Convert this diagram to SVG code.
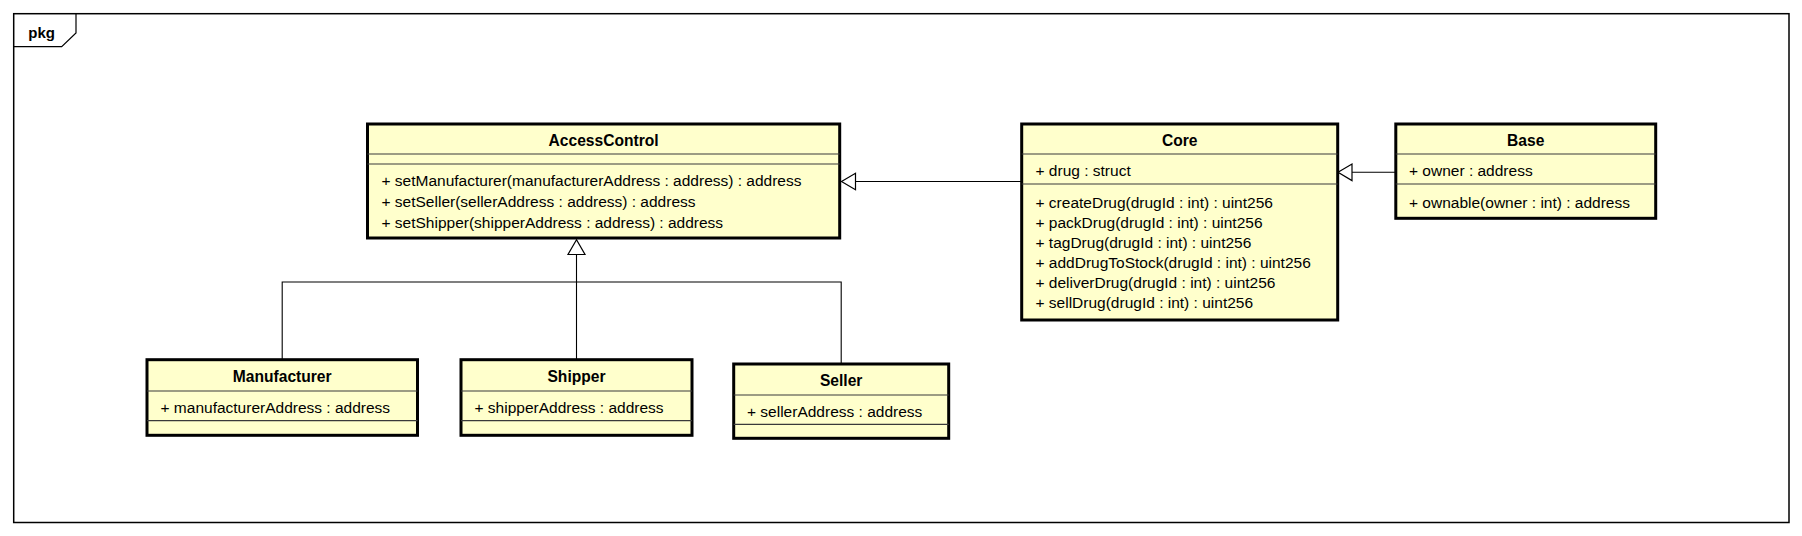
<svg xmlns="http://www.w3.org/2000/svg" width="1802" height="536" viewBox="0 0 1802 536">
<style>
.frame{fill:none;stroke:#000;stroke-width:1.5}
.tab{fill:none;stroke:#000;stroke-width:1.2}
.box{fill:#ffffcc;stroke:#000;stroke-width:3}
.sep{stroke:#3a3a3a;stroke-width:1.2}
.t{font-family:"Liberation Sans",Arial,sans-serif;font-size:15.5px;fill:#000}
.title{font-family:"Liberation Sans",Arial,sans-serif;font-size:15.6px;font-weight:bold;fill:#000;text-anchor:middle}
.conn{fill:none;stroke:#000;stroke-width:1.1}
.tri{fill:#fff;stroke:#000;stroke-width:1.2}
</style>
<rect x="0" y="0" width="1802" height="536" fill="#fff"/>
<g id="frame">
<rect class="frame" x="13.7" y="13.7" width="1775.3" height="508.8"/>
<polyline class="tab" points="13.7,46.7 61.7,46.7 76,33 76,13.7"/>
<text class="title" x="41.7" y="37.5" style="font-size:15px">pkg</text>
</g>
<g id="connectors">
<line class="conn" x1="855.5" y1="181.5" x2="1021.5" y2="181.5"/>
<polygon class="tri" points="841.5,181.5 855.5,173.2 855.5,189.8"/>
<line class="conn" x1="1352" y1="172.3" x2="1395.5" y2="172.3"/>
<polygon class="tri" points="1338,172.3 1352,164 1352,180.6"/>
<line class="conn" x1="576.5" y1="254.5" x2="576.5" y2="359.7"/>
<polygon class="tri" points="576.5,239.8 568,254.5 585,254.5"/>
<polyline class="conn" points="282.2,359.7 282.2,282 841.2,282 841.2,364"/>
</g>
<g id="AccessControl">
<rect class="box" x="367.5" y="124" width="472.2" height="114"/>
<line class="sep" x1="367.5" y1="154" x2="839.7" y2="154"/>
<line class="sep" x1="367.5" y1="164" x2="839.7" y2="164"/>
<text class="title" x="603.6" y="146">AccessControl</text>
<text class="t" x="381.5" y="186">+ setManufacturer(manufacturerAddress : address) : address</text>
<text class="t" x="381.5" y="207">+ setSeller(sellerAddress : address) : address</text>
<text class="t" x="381.5" y="228">+ setShipper(shipperAddress : address) : address</text>
</g>
<g id="Core">
<rect class="box" x="1021.7" y="124" width="316" height="196"/>
<line class="sep" x1="1021.7" y1="154" x2="1337.7" y2="154"/>
<line class="sep" x1="1021.7" y1="184" x2="1337.7" y2="184"/>
<text class="title" x="1179.7" y="146">Core</text>
<text class="t" x="1035.5" y="176">+ drug : struct</text>
<text class="t" x="1035.5" y="207.5">+ createDrug(drugId : int) : uint256</text>
<text class="t" x="1035.5" y="227.6">+ packDrug(drugId : int) : uint256</text>
<text class="t" x="1035.5" y="247.7">+ tagDrug(drugId : int) : uint256</text>
<text class="t" x="1035.5" y="267.8">+ addDrugToStock(drugId : int) : uint256</text>
<text class="t" x="1035.5" y="287.9">+ deliverDrug(drugId : int) : uint256</text>
<text class="t" x="1035.5" y="308">+ sellDrug(drugId : int) : uint256</text>
</g>
<g id="Base">
<rect class="box" x="1395.8" y="124" width="259.9" height="94.3"/>
<line class="sep" x1="1395.8" y1="154" x2="1655.7" y2="154"/>
<line class="sep" x1="1395.8" y1="184" x2="1655.7" y2="184"/>
<text class="title" x="1525.7" y="146">Base</text>
<text class="t" x="1409" y="176">+ owner : address</text>
<text class="t" x="1409" y="207.5">+ ownable(owner : int) : address</text>
</g>
<g id="Manufacturer">
<rect class="box" x="147" y="359.7" width="270.5" height="75.6"/>
<line class="sep" x1="147" y1="391" x2="417.5" y2="391"/>
<line class="sep" x1="147" y1="420.7" x2="417.5" y2="420.7"/>
<text class="title" x="282.2" y="381.5">Manufacturer</text>
<text class="t" x="160.5" y="413">+ manufacturerAddress : address</text>
</g>
<g id="Shipper">
<rect class="box" x="461" y="359.7" width="231" height="75.6"/>
<line class="sep" x1="461" y1="391" x2="692" y2="391"/>
<line class="sep" x1="461" y1="420.7" x2="692" y2="420.7"/>
<text class="title" x="576.5" y="381.5">Shipper</text>
<text class="t" x="474.5" y="413">+ shipperAddress : address</text>
</g>
<g id="Seller">
<rect class="box" x="733.7" y="364" width="215" height="74.3"/>
<line class="sep" x1="733.7" y1="395" x2="948.7" y2="395"/>
<line class="sep" x1="733.7" y1="424.3" x2="948.7" y2="424.3"/>
<text class="title" x="841.2" y="386">Seller</text>
<text class="t" x="747" y="417">+ sellerAddress : address</text>
</g>
</svg>
